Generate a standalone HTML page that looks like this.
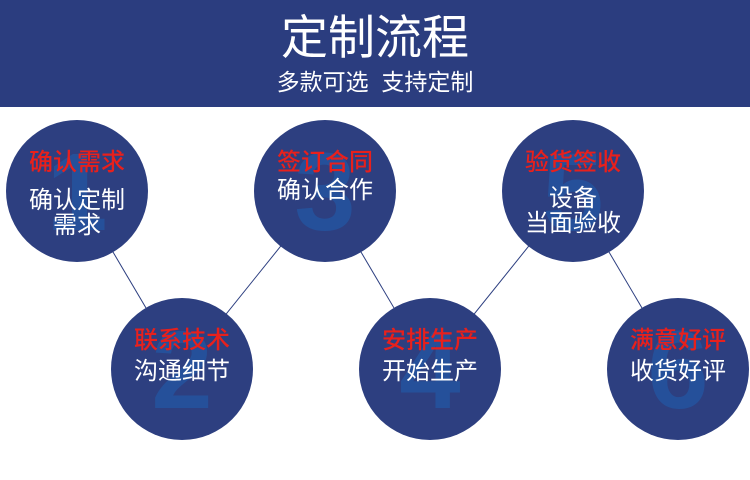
<!DOCTYPE html>
<html><head><meta charset="utf-8"><style>
body{margin:0;width:750px;height:480px;background:#fff;position:relative;overflow:hidden;font-family:"Liberation Sans","Noto Sans CJK SC",sans-serif}
.hd{position:absolute;left:0;top:0;width:750px;height:107px;background:#2b3d7f;color:#fff;text-align:center}
.t{position:absolute;top:10px;width:100%;font-size:47px;line-height:56px;font-weight:normal}
.s{position:absolute;top:67px;width:100%;font-size:23px;line-height:30px}
.c{position:absolute;width:142px;height:142px;border-radius:50%;background:#2d3f80;overflow:hidden;text-align:center}
.n{position:absolute;left:0;width:100%;top:18px;font-size:110px;font-weight:bold;color:#2456a0;line-height:110px;font-family:"Liberation Sans",sans-serif;opacity:.8}
.r{position:absolute;width:100%;top:28px;font-size:24px;line-height:30px;color:#e8201c;font-weight:500}
.w{position:absolute;width:100%;top:68px;font-size:24px;line-height:25px;color:#fff}
</style></head><body>
<div class="hd"><div class="t">定制流程</div><div class="s">多款可选&nbsp;&nbsp;支持定制</div></div>
<svg width="750" height="480" style="position:absolute;left:0;top:0">
<polyline points="77,191 182,369 325,191 430,369 573,191 678,369" fill="none" stroke="#2d3f80" stroke-width="1"/>
</svg>
<div class="c" style="left:6px;top:120px"><div class="n">1</div><div class="r">确认需求</div><div class="w">确认定制<br>需求</div></div>
<div class="c" style="left:254px;top:120px"><div class="n">3</div><div class="r">签订合同</div><div class="w" style="top:58px">确认合作</div></div>
<div class="c" style="left:502px;top:120px"><div class="n">5</div><div class="r">验货签收</div><div class="w" style="top:66px">设备<br>当面验收</div></div>
<div class="c" style="left:111px;top:298px"><div class="n">2</div><div class="r">联系技术</div><div class="w" style="top:61px">沟通细节</div></div>
<div class="c" style="left:359px;top:298px"><div class="n">4</div><div class="r">安排生产</div><div class="w" style="top:61px">开始生产</div></div>
<div class="c" style="left:607px;top:298px"><div class="n">6</div><div class="r">满意好评</div><div class="w" style="top:61px">收货好评</div></div>
</body></html>
